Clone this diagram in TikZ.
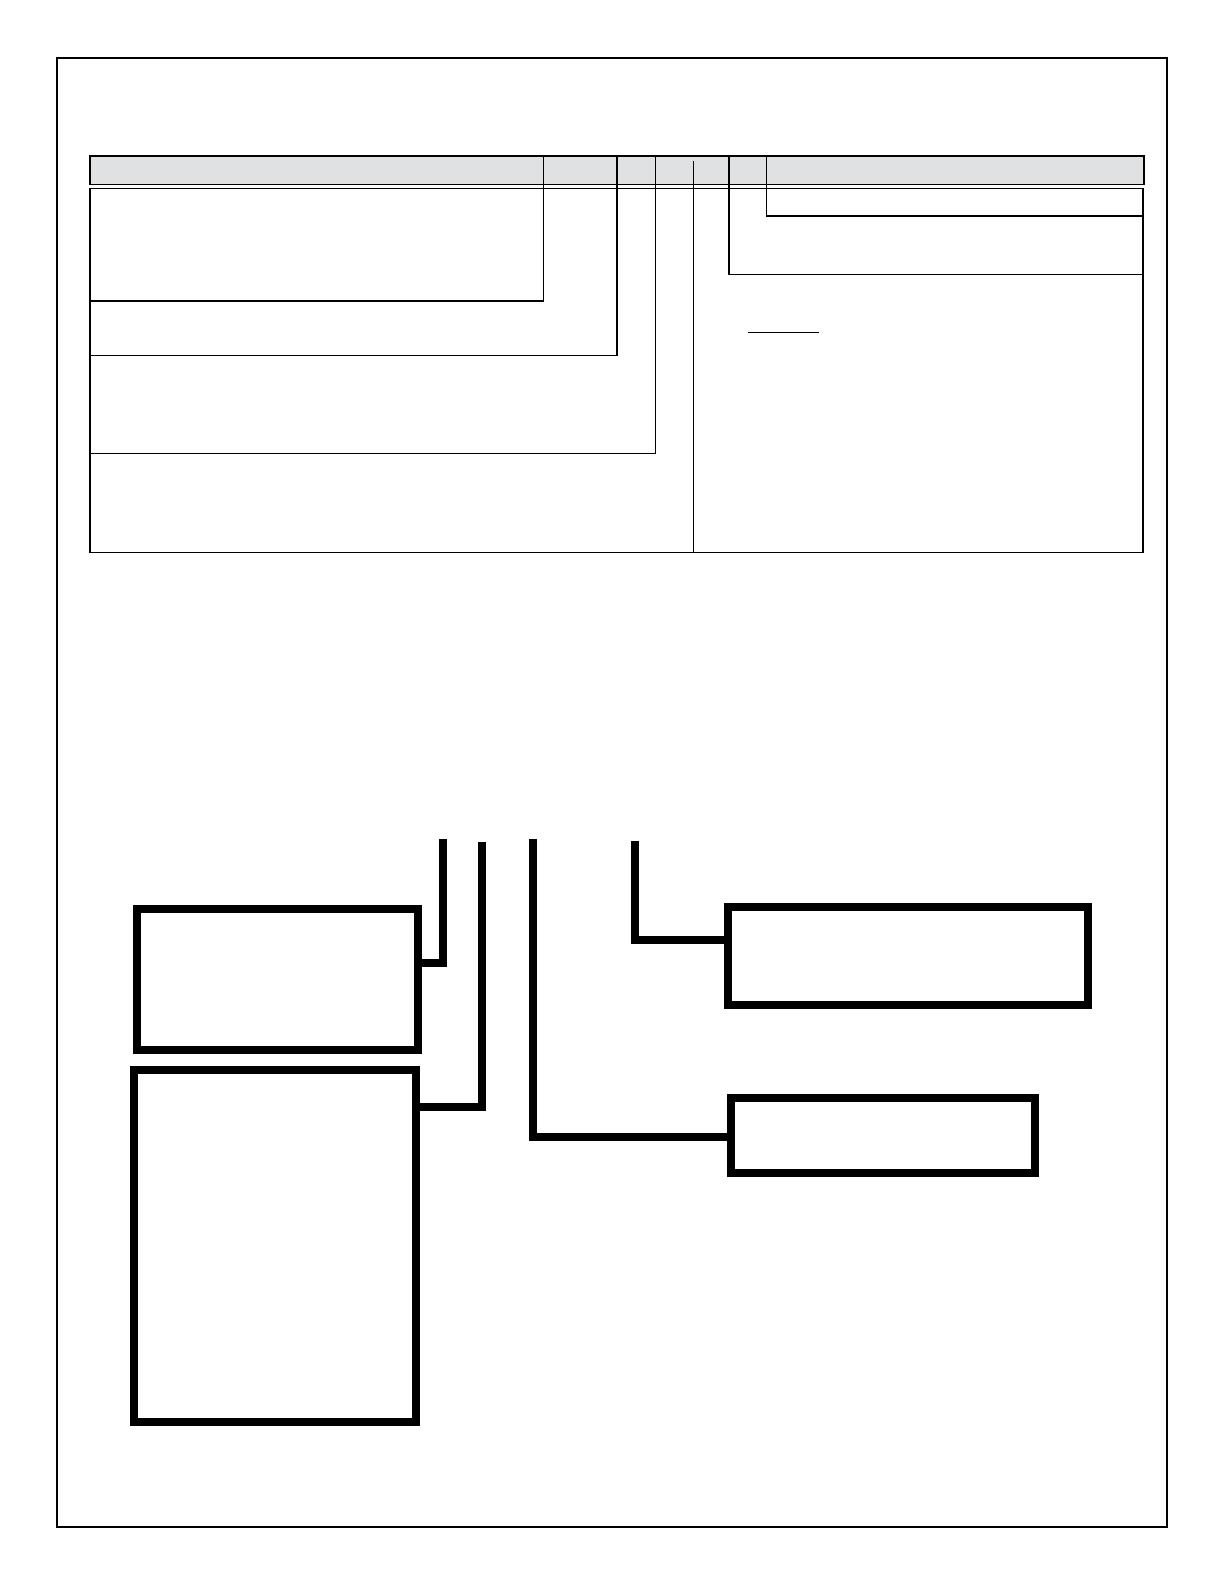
\documentclass[tikz,border=0pt]{standalone}
\usepackage{tikz}
\definecolor{hdrgray}{RGB}{224,225,227}

\begin{document}
\begin{tikzpicture}[x=1pt,y=-1pt,
  rule/.style={line width=1.4pt},
  thinrule/.style={line width=1pt},
  box/.style={draw,line width=8pt,inner sep=0pt},
  lead/.style={line width=8pt}]
\useasboundingbox (0,0) rectangle (1224,1584);
\draw[line width=2pt] (57,58) rectangle (1167,1527);

% table
\filldraw[rule,fill=hdrgray] (90,156) rectangle (1144,184.3);
\draw[rule] (90,188.3) rectangle (1143,552.5);
\foreach \x in {543.5,617,655.5,729,766.7}
  \draw[rule] (\x,156) -- (\x,188.3);
\foreach \x/\y in {543.5/301, 617/355.6, 655.5/453.5}
  \draw[rule] (\x,188.3) -- (\x,\y) -- (90,\y);
\foreach \x/\y in {729/274.7, 766.7/216}
  \draw[rule] (\x,188.3) -- (\x,\y) -- (1143,\y);
\draw[thinrule] (693,161) -- (693,552.5);
\draw[thinrule] (747.5,332) -- (819,332);

% boxes
\node[box,minimum width=281.3pt,minimum height=141pt] (bxA) at (277.4,979.5) {};
\node[box,minimum width=282pt,minimum height=352pt] (bxB) at (275,1246) {};
\node[box,minimum width=360pt,minimum height=97.7pt] (bxC) at (908,955.8) {};
\node[box,minimum width=304pt,minimum height=74.7pt] (bxD) at (883,1135.6) {};

% leads
\foreach \n/\x/\t/\y in {A/442.7/839/963, B/482/842/1106.5, D/533/839/1137, C/635/841/940}{
  \coordinate (t\n) at (\x,\t);
  \coordinate (k\n) at (\x,\y);
}
\draw[lead] (tA) -- (kA) -- (kA -| bxA.east);
\draw[lead] (tB) -- (kB) -- (kB -| bxB.east);
\draw[lead] (tD) -- (kD) -- (kD -| bxD.west);
\draw[lead] (tC) -- (kC) -- (kC -| bxC.west);

\end{tikzpicture}
\end{document}
